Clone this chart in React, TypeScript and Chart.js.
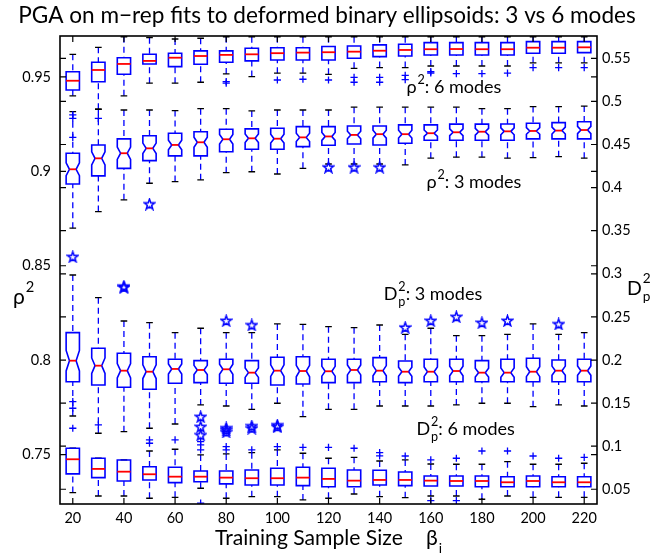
import React, { useEffect, useRef } from "react";
import { Chart, registerables } from "chart.js";

Chart.register(...registerables);

const FONT = "Lato, 'Open Sans', 'DejaVu Sans', sans-serif";
const BLUE = "#0000ff";
const RED = "#ff0000";
const BLACK = "#000000";

const TITLE = "PGA on m−rep fits to deformed binary ellipsoids: 3 vs 6 modes";
const X_TITLE = "Training Sample Size";

// ---------- axes ----------
const SAMPLE_SIZES = [20, 30, 40, 50, 60, 70, 80, 90, 100, 110, 120, 130, 140, 150, 160, 170, 180, 190, 200, 210, 220];
const X_TICKS = [20, 40, 60, 80, 100, 120, 140, 160, 180, 200, 220];
const X_MIN = 15;
const X_MAX = 225;
const RHO_TICKS = [0.75, 0.8, 0.85, 0.9, 0.95];
const RHO_TICK_LABELS = ["0.75", "0.8", "0.85", "0.9", "0.95"];
const RHO_MIN = 0.7238;
const RHO_MAX = 0.9717;
const DP_TICKS = [0.05, 0.1, 0.15, 0.2, 0.25, 0.3, 0.35, 0.4, 0.45, 0.5, 0.55];
const DP_TICK_LABELS = ["0.05", "0.1", "0.15", "0.2", "0.25", "0.3", "0.35", "0.4", "0.45", "0.5", "0.55"];
const DP_MIN = 0.0329;
const DP_MAX = 0.5759;

// ---------- rho^2, 6 modes (left axis) ----------
const RHO6_Q1 = [0.9431, 0.9475, 0.9514, 0.9569, 0.9555, 0.9567, 0.9578, 0.9585, 0.959, 0.959, 0.959, 0.9599, 0.9608, 0.9611, 0.9616, 0.9616, 0.9616, 0.9616, 0.9626, 0.9626, 0.9629];
const RHO6_MED = [0.948, 0.9537, 0.9569, 0.9585, 0.9602, 0.9611, 0.9617, 0.962, 0.9626, 0.9629, 0.9631, 0.9634, 0.9639, 0.9643, 0.9647, 0.9648, 0.9647, 0.9647, 0.9655, 0.9655, 0.9657];
const RHO6_Q3 = [0.9528, 0.9578, 0.9602, 0.962, 0.9626, 0.9638, 0.9638, 0.9652, 0.9655, 0.9655, 0.9661, 0.9664, 0.967, 0.9673, 0.9682, 0.9682, 0.9682, 0.9682, 0.9687, 0.9687, 0.9687];
const RHO6_LO = [0.94, 0.9329, 0.94, 0.9467, 0.9467, 0.9472, 0.9516, 0.9502, 0.952, 0.952, 0.9514, 0.9546, 0.955, 0.955, 0.9558, 0.9558, 0.9558, 0.9558, 0.9575, 0.9575, 0.9575];
const RHO6_HI = [0.962, 0.9657, 0.9713, 0.9708, 0.9701, 0.9705, 0.9713, 0.9713, 0.9713, 0.9713, 0.9713, 0.9713, 0.9713, 0.9713, 0.9713, 0.9713, 0.9713, 0.9713, 0.9713, 0.9713, 0.9713];
const RHO6_OUT_X = [20, 20, 20, 30, 80, 80, 100, 110, 120, 130, 130, 140, 140, 150, 150, 160, 160, 170, 180, 190, 200, 210, 220];
const RHO6_OUT_Y = [0.9299, 0.9281, 0.918, 0.9281, 0.9475, 0.9467, 0.9484, 0.9488, 0.9484, 0.9498, 0.9472, 0.9498, 0.9472, 0.9508, 0.9486, 0.9528, 0.9521, 0.9518, 0.9518, 0.952, 0.9549, 0.9549, 0.9549];

// ---------- rho^2, 3 modes (left axis, notched) ----------
const RHO3_Q1 = [0.8933, 0.8976, 0.9016, 0.9057, 0.9082, 0.9082, 0.9104, 0.9117, 0.9117, 0.9131, 0.9138, 0.9145, 0.914, 0.9149, 0.9165, 0.9165, 0.9165, 0.9165, 0.9172, 0.9172, 0.9172];
const RHO3_MED = [0.9011, 0.9069, 0.9096, 0.9122, 0.914, 0.9154, 0.917, 0.9175, 0.9173, 0.918, 0.9185, 0.9193, 0.9197, 0.9197, 0.9202, 0.9207, 0.921, 0.9212, 0.9214, 0.9216, 0.9219];
const RHO3_Q3 = [0.9096, 0.914, 0.9172, 0.9189, 0.9202, 0.921, 0.9223, 0.9225, 0.9228, 0.9237, 0.9237, 0.924, 0.924, 0.9246, 0.9246, 0.925, 0.925, 0.9251, 0.9255, 0.9258, 0.9263];
const RHO3_LO = [0.8699, 0.8787, 0.8849, 0.8937, 0.8946, 0.8955, 0.8993, 0.8998, 0.8986, 0.9016, 0.9039, 0.9039, 0.9039, 0.9034, 0.907, 0.9075, 0.9075, 0.907, 0.9073, 0.9078, 0.907];
const RHO3_HI = [0.9316, 0.9329, 0.9325, 0.9325, 0.9322, 0.9332, 0.9332, 0.932, 0.9325, 0.9325, 0.9325, 0.934, 0.934, 0.934, 0.934, 0.934, 0.9332, 0.9332, 0.9343, 0.9343, 0.9346];
const RHO3_STAR_X = [50, 120, 130, 140];
const RHO3_STAR_Y = [0.8827, 0.9022, 0.9022, 0.9022];

// ---------- Dp^2, 3 modes (right axis, notched) ----------
const DP3_Q1 = [0.1748, 0.171, 0.1683, 0.166, 0.173, 0.1737, 0.173, 0.173, 0.171, 0.1722, 0.1737, 0.1737, 0.1748, 0.1737, 0.1748, 0.1748, 0.1748, 0.1748, 0.1748, 0.1748, 0.1748];
const DP3_MED = [0.1992, 0.1934, 0.1876, 0.1864, 0.1896, 0.1884, 0.1892, 0.1853, 0.1876, 0.1872, 0.1869, 0.1884, 0.1876, 0.1864, 0.1864, 0.1872, 0.1853, 0.1853, 0.1864, 0.1876, 0.1876];
const DP3_Q3 = [0.2317, 0.2136, 0.2078, 0.2038, 0.2008, 0.1992, 0.2008, 0.1992, 0.2031, 0.2038, 0.2008, 0.2008, 0.2027, 0.1988, 0.2008, 0.2008, 0.1992, 0.2008, 0.202, 0.2, 0.2008];
const DP3_LO = [0.135, 0.115, 0.1168, 0.1208, 0.1257, 0.1478, 0.1466, 0.1428, 0.1498, 0.1342, 0.1428, 0.1428, 0.1466, 0.1466, 0.1466, 0.1478, 0.1498, 0.1498, 0.1458, 0.1478, 0.1466];
const DP3_HI = [0.2986, 0.2723, 0.2452, 0.2433, 0.2317, 0.2368, 0.2317, 0.2317, 0.2418, 0.2414, 0.2386, 0.2375, 0.2406, 0.2298, 0.2368, 0.2282, 0.2282, 0.2298, 0.2418, 0.2298, 0.2317];
const DP3_STAR_X = [20, 40, 40, 80, 90, 150, 160, 170, 180, 190, 210];
const DP3_STAR_Y = [0.3198, 0.2843, 0.2855, 0.2456, 0.2406, 0.2379, 0.2456, 0.2502, 0.2433, 0.2456, 0.2418];

// ---------- Dp^2, 6 modes (right axis) ----------
const DP6_Q1 = [0.0678, 0.0635, 0.0596, 0.0608, 0.0577, 0.0588, 0.0562, 0.055, 0.055, 0.0542, 0.053, 0.053, 0.055, 0.0542, 0.0538, 0.0538, 0.053, 0.053, 0.053, 0.053, 0.053];
const DP6_MED = [0.0848, 0.0736, 0.0704, 0.0674, 0.0646, 0.0646, 0.0635, 0.0628, 0.0628, 0.0635, 0.062, 0.06, 0.0608, 0.0608, 0.06, 0.0596, 0.0596, 0.0581, 0.0596, 0.0581, 0.0581];
const DP6_Q3 = [0.0976, 0.086, 0.084, 0.0762, 0.0755, 0.0712, 0.0712, 0.0724, 0.0744, 0.0755, 0.0744, 0.0724, 0.072, 0.07, 0.0654, 0.0654, 0.0654, 0.0646, 0.0654, 0.0646, 0.0646];
const DP6_LO = [0.0461, 0.0422, 0.0422, 0.0396, 0.0407, 0.0512, 0.0396, 0.0414, 0.0414, 0.0376, 0.0396, 0.0445, 0.0414, 0.0402, 0.0422, 0.0422, 0.0384, 0.0422, 0.0407, 0.0407, 0.0407];
const DP6_HI = [0.0976, 0.086, 0.084, 0.0944, 0.0964, 0.0898, 0.091, 0.0925, 0.0956, 0.0918, 0.086, 0.0871, 0.0828, 0.084, 0.0793, 0.079, 0.079, 0.082, 0.079, 0.079, 0.0802];
const DP6_OUT_X = [20, 20, 20, 30, 50, 50, 60, 70, 70, 70, 70, 80, 80, 90, 100, 110, 120, 130, 140, 140, 150, 160, 160, 170, 170, 180, 190, 200, 210, 220];
const DP6_OUT_Y = [0.1516, 0.144, 0.1208, 0.1246, 0.1072, 0.1034, 0.1072, 0.1052, 0.1014, 0.0956, 0.034, 0.0994, 0.0956, 0.0956, 0.0994, 0.0987, 0.0987, 0.0976, 0.0925, 0.0887, 0.0886, 0.084, 0.0368, 0.086, 0.0368, 0.0944, 0.0944, 0.0886, 0.086, 0.0871];
const DP6_STAR_X = [70, 70, 70, 80, 80, 80, 90, 90, 100, 100];
const DP6_STAR_Y = [0.1342, 0.1226, 0.113, 0.1211, 0.1165, 0.119, 0.1208, 0.1234, 0.1226, 0.1245];

// ---------- in-plot label anchors (data coordinates) ----------
const LABEL_RHO6 = { x: 150.5, y: 0.9414, modes: ": 6 modes" };
const LABEL_RHO3 = { x: 158.3, y: 0.891, modes: ": 3 modes" };
const LABEL_DP3 = { x: 141.6, y: 0.2696, modes: ": 3 modes" };
const LABEL_DP6 = { x: 154.4, y: 0.113, modes: ": 6 modes" };

// ---------- box geometry (x data units) ----------
const BOX_WIDTH = 5.2;
const CAP_WIDTH = 2.6;
const NOTCH_K = 0.21;

const BOX_SERIES = [
  { axis: "y", q1: RHO6_Q1, med: RHO6_MED, q3: RHO6_Q3, lo: RHO6_LO, hi: RHO6_HI, notched: false },
  { axis: "y", q1: RHO3_Q1, med: RHO3_MED, q3: RHO3_Q3, lo: RHO3_LO, hi: RHO3_HI, notched: true },
  { axis: "y2", q1: DP3_Q1, med: DP3_MED, q3: DP3_Q3, lo: DP3_LO, hi: DP3_HI, notched: true },
  { axis: "y2", q1: DP6_Q1, med: DP6_MED, q3: DP6_Q3, lo: DP6_LO, hi: DP6_HI, notched: false },
];

function pts(xs: number[], ys: number[]) {
  return xs.map((x, i) => ({ x, y: ys[i] }));
}

function makeStar(): HTMLCanvasElement {
  const size = 13;
  const c = document.createElement("canvas");
  c.width = size;
  c.height = size;
  const g = c.getContext("2d")!;
  const cx = size / 2;
  const cy = size / 2 + 0.5;
  const R = 5.6;
  const r = R * 0.4;
  g.beginPath();
  for (let k = 0; k < 10; k++) {
    const ang = -Math.PI / 2 + (k * Math.PI) / 5;
    const rad = k % 2 === 0 ? R : r;
    const px = cx + rad * Math.cos(ang);
    const py = cy + rad * Math.sin(ang);
    if (k === 0) g.moveTo(px, py);
    else g.lineTo(px, py);
  }
  g.closePath();
  g.strokeStyle = BLUE;
  g.lineWidth = 1.5;
  g.lineJoin = "miter";
  g.stroke();
  return c;
}

const boxPlugin = {
  id: "boxplots",
  beforeDatasetsDraw(chart: any) {
    const { ctx, chartArea: a, scales } = chart;
    const xs = scales.x;
    ctx.save();
    ctx.beginPath();
    ctx.rect(a.left, a.top, a.right - a.left, a.bottom - a.top);
    ctx.clip();
    BOX_SERIES.forEach((s) => {
      const ys = scales[s.axis];
      const p = (v: number) => ys.getPixelForValue(v);
      SAMPLE_SIZES.forEach((sz, i) => {
        const cx = xs.getPixelForValue(sz);
        const hw = xs.getPixelForValue(sz + BOX_WIDTH / 2) - cx;
        const cw = xs.getPixelForValue(sz + CAP_WIDTH / 2) - cx;
        const yq1 = p(s.q1[i]);
        const yq3 = p(s.q3[i]);
        const ym = p(s.med[i]);
        const ylo = p(s.lo[i]);
        const yhi = p(s.hi[i]);
        // whiskers
        ctx.strokeStyle = BLUE;
        ctx.lineWidth = 1.3;
        ctx.setLineDash([6, 4]);
        ctx.beginPath();
        ctx.moveTo(cx, yhi);
        ctx.lineTo(cx, yq3);
        ctx.stroke();
        ctx.beginPath();
        ctx.moveTo(cx, ylo);
        ctx.lineTo(cx, yq1);
        ctx.stroke();
        ctx.setLineDash([]);
        // adjacent value caps
        ctx.strokeStyle = BLACK;
        ctx.lineWidth = 1.3;
        ctx.beginPath();
        ctx.moveTo(cx - cw, yhi);
        ctx.lineTo(cx + cw, yhi);
        ctx.moveTo(cx - cw, ylo);
        ctx.lineTo(cx + cw, ylo);
        ctx.stroke();
        // box
        ctx.strokeStyle = BLUE;
        ctx.lineWidth = 1.6;
        ctx.beginPath();
        if (s.notched) {
          const iqr = s.q3[i] - s.q1[i];
          const yn1 = p(s.med[i] - NOTCH_K * iqr);
          const yn2 = p(s.med[i] + NOTCH_K * iqr);
          const nw = hw * 0.5;
          ctx.moveTo(cx - hw, yq1);
          ctx.lineTo(cx - hw, yn1);
          ctx.lineTo(cx - nw, ym);
          ctx.lineTo(cx - hw, yn2);
          ctx.lineTo(cx - hw, yq3);
          ctx.lineTo(cx + hw, yq3);
          ctx.lineTo(cx + hw, yn2);
          ctx.lineTo(cx + nw, ym);
          ctx.lineTo(cx + hw, yn1);
          ctx.lineTo(cx + hw, yq1);
          ctx.closePath();
        } else {
          ctx.rect(cx - hw, yq3, 2 * hw, yq1 - yq3);
        }
        ctx.stroke();
        // median
        const mw = s.notched ? hw * 0.5 : hw;
        ctx.strokeStyle = RED;
        ctx.lineWidth = 1.8;
        ctx.beginPath();
        ctx.moveTo(cx - mw, ym);
        ctx.lineTo(cx + mw, ym);
        ctx.stroke();
      });
    });
    ctx.restore();
  },
};

function setFont(ctx: CanvasRenderingContext2D, size: number) {
  ctx.font = `${size}px ${FONT}`;
}

// draws base glyph with superscript (and optional subscript); returns x after it
function drawScripted(ctx: CanvasRenderingContext2D, base: string, sup: string, sub: string | null, x: number, y: number, size: number, supRaise: number, subDrop: number) {
  setFont(ctx, size);
  ctx.fillText(base, x, y);
  const wb = ctx.measureText(base).width;
  const small = size * 0.7;
  setFont(ctx, small);
  const sx = x + wb + size * 0.05;
  ctx.fillText(sup, sx, y - size * supRaise);
  let w = ctx.measureText(sup).width;
  if (sub) {
    ctx.fillText(sub, sx, y + size * subDrop);
    w = Math.max(w, ctx.measureText(sub).width);
  }
  return sx + w;
}

function fitSize(ctx: CanvasRenderingContext2D, text: string, target: number) {
  setFont(ctx, 20);
  return (20 * target) / ctx.measureText(text).width;
}

const decorPlugin = {
  id: "decor",
  afterDraw(chart: any) {
    const { ctx, chartArea: a, scales } = chart;
    const xs = scales.x;
    const yl = scales.y;
    const yr = scales.y2;
    ctx.save();
    // ticks pointing inward on all four sides
    ctx.strokeStyle = BLACK;
    ctx.lineWidth = 1.2;
    const tl = 6;
    ctx.beginPath();
    X_TICKS.forEach((v) => {
      const px = xs.getPixelForValue(v);
      ctx.moveTo(px, a.bottom);
      ctx.lineTo(px, a.bottom - tl);
      ctx.moveTo(px, a.top);
      ctx.lineTo(px, a.top + tl);
    });
    RHO_TICKS.forEach((v) => {
      const py = yl.getPixelForValue(v);
      ctx.moveTo(a.left, py);
      ctx.lineTo(a.left + tl, py);
      ctx.moveTo(a.right, py);
      ctx.lineTo(a.right - tl, py);
    });
    DP_TICKS.forEach((v) => {
      const py = yr.getPixelForValue(v);
      ctx.moveTo(a.left, py);
      ctx.lineTo(a.left + tl, py);
      ctx.moveTo(a.right, py);
      ctx.lineTo(a.right - tl, py);
    });
    ctx.stroke();
    // frame
    ctx.lineWidth = 1.6;
    ctx.strokeRect(a.left, a.top, a.right - a.left, a.bottom - a.top);

    ctx.fillStyle = BLACK;
    ctx.textBaseline = "alphabetic";
    ctx.textAlign = "left";

    // title
    const tSize = fitSize(ctx, TITLE, 618);
    setFont(ctx, tSize);
    ctx.textAlign = "center";
    ctx.fillText(TITLE, (a.left + a.right) / 2 - 1.5, 23);
    ctx.textAlign = "left";

    // x title
    const xSize = fitSize(ctx, X_TITLE, 188);
    setFont(ctx, xSize);
    ctx.fillText(X_TITLE, 215, 545);
    setFont(ctx, xSize);
    ctx.fillText("β", 426, 545);
    const wb = ctx.measureText("β").width;
    setFont(ctx, xSize * 0.65);
    ctx.fillText("i", 426 + wb + 1, 553);

    // y titles
    drawScripted(ctx, "ρ", "2", null, 13, 304, 21, 0.55, 0);
    drawScripted(ctx, "D", "2", "p", 627, 295, 19.5, 0.6, 0.3);

    // in-plot labels
    const lsize = 18;
    const rhoLabel = (lab: any) => {
      const x = xs.getPixelForValue(lab.x);
      const y = yl.getPixelForValue(lab.y);
      const nx = drawScripted(ctx, "ρ", "2", null, x, y, lsize, 0.5, 0);
      setFont(ctx, lsize);
      ctx.fillText(lab.modes, nx, y);
    };
    const dpLabel = (lab: any) => {
      const x = xs.getPixelForValue(lab.x);
      const y = yr.getPixelForValue(lab.y);
      const nx = drawScripted(ctx, "D", "2", "p", x, y, lsize, 0.5, 0.35);
      setFont(ctx, lsize);
      ctx.fillText(lab.modes, nx, y);
    };
    rhoLabel(LABEL_RHO6);
    rhoLabel(LABEL_RHO3);
    dpLabel(LABEL_DP3);
    dpLabel(LABEL_DP6);
    ctx.restore();
  },
};

export default function App() {
  const ref = useRef<HTMLCanvasElement>(null);
  useEffect(() => {
    const canvas = ref.current;
    if (!canvas) return;
    const star = makeStar();
    const plus = {
      pointStyle: "cross" as const,
      pointRadius: 3.6,
      pointHoverRadius: 3.6,
      borderColor: BLUE,
      backgroundColor: BLUE,
      pointBorderColor: BLUE,
      pointBorderWidth: 1.3,
      borderWidth: 1.3,
    };
    const starStyle = {
      pointStyle: star as any,
      pointRadius: 6,
      pointHoverRadius: 6,
      borderColor: BLUE,
      backgroundColor: BLUE,
    };
    const chart = new Chart(canvas, {
      type: "scatter",
      data: {
        datasets: [
          { label: "ρ² 6 modes outliers", yAxisID: "y", data: pts(RHO6_OUT_X, RHO6_OUT_Y), ...plus },
          { label: "ρ² 3 modes stars", yAxisID: "y", data: pts(RHO3_STAR_X, RHO3_STAR_Y), ...starStyle },
          { label: "Dp² 3 modes stars", yAxisID: "y2", data: pts(DP3_STAR_X, DP3_STAR_Y), ...starStyle },
          { label: "Dp² 6 modes outliers", yAxisID: "y2", data: pts(DP6_OUT_X, DP6_OUT_Y), ...plus },
          { label: "Dp² 6 modes stars", yAxisID: "y2", data: pts(DP6_STAR_X, DP6_STAR_Y), ...starStyle },
        ] as any,
      },
      options: {
        animation: false,
        responsive: true,
        maintainAspectRatio: false,
        devicePixelRatio: 1,
        layout: { padding: { top: 36, left: 0, right: 0, bottom: 0 } },
        plugins: {
          legend: { display: false },
          title: { display: false },
          tooltip: { enabled: false },
        },
        events: [],
        scales: {
          x: {
            type: "linear",
            min: X_MIN,
            max: X_MAX,
            grid: { display: false, drawTicks: false },
            border: { display: false },
            afterBuildTicks: (s: any) => {
              s.ticks = X_TICKS.map((v) => ({ value: v }));
            },
            afterFit: (s: any) => {
              s.height = 56;
            },
            ticks: {
              autoSkip: false,
              maxRotation: 0,
              padding: 6,
              color: BLACK,
              font: { family: FONT, size: 14.5 },
              callback: (v: any) => String(v),
            },
          },
          y: {
            type: "linear",
            position: "left",
            min: RHO_MIN,
            max: RHO_MAX,
            grid: { display: false, drawTicks: false },
            border: { display: false },
            afterBuildTicks: (s: any) => {
              s.ticks = RHO_TICKS.map((v) => ({ value: v }));
            },
            afterFit: (s: any) => {
              s.width = 60;
            },
            ticks: {
              autoSkip: false,
              padding: 9,
              color: BLACK,
              font: { family: FONT, size: 14.5 },
              callback: (_v: any, i: number) => RHO_TICK_LABELS[i],
            },
          },
          y2: {
            type: "linear",
            position: "right",
            min: DP_MIN,
            max: DP_MAX,
            grid: { display: false, drawTicks: false },
            border: { display: false },
            afterBuildTicks: (s: any) => {
              s.ticks = DP_TICKS.map((v) => ({ value: v }));
            },
            afterFit: (s: any) => {
              s.width = 56;
            },
            ticks: {
              autoSkip: false,
              padding: 5,
              color: BLACK,
              font: { family: FONT, size: 14.5 },
              callback: (_v: any, i: number) => DP_TICK_LABELS[i],
            },
          },
        },
      } as any,
      plugins: [boxPlugin, decorPlugin],
    });
    return () => chart.destroy();
  }, []);
  return (
    <div style={{ position: "absolute", left: 0, top: 0, width: 653, height: 560, background: "#fff" }}>
      <canvas ref={ref} />
    </div>
  );
}
